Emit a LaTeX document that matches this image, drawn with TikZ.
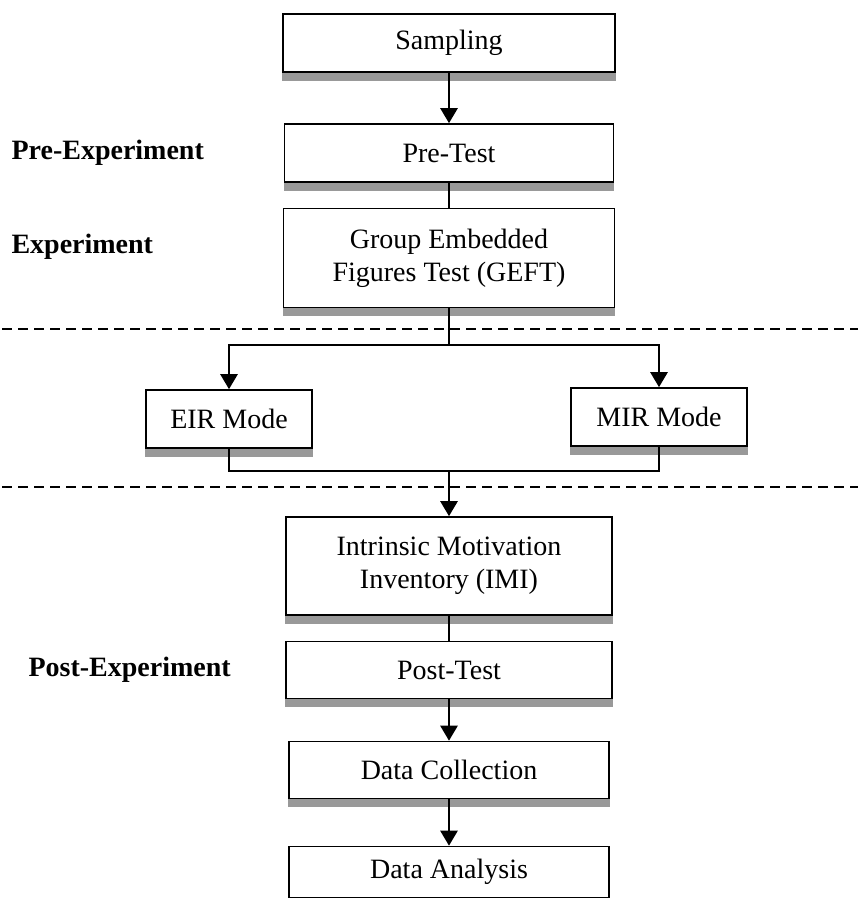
\documentclass[tikz,border=0pt]{standalone}
\usepackage{fontspec}
\setmainfont{Liberation Serif}
\usetikzlibrary{arrows.meta}

\tikzset{
  stage/.style={shape=rectangle,draw=black,line width=1.6pt,fill=white,
    inner sep=0pt,align=center,font=\fontsize{28}{33}\selectfont},
  phase/.style={anchor=west,font=\fontsize{28}{33}\selectfont\bfseries},
  flow/.style={line width=2.6pt,-{Triangle[width=17pt,length=15pt]}},
  link/.style={line width=2pt},
  sep/.style={line width=1.8pt,dash pattern=on 10pt off 6pt},
  shade/.style={fill=black!40}
}

\begin{document}
\begin{tikzpicture}[x=1pt,y=-1pt]
\useasboundingbox (0,0) rectangle (861,899);
% boxes of the procedure
\node[stage,minimum width=332pt,minimum height=58pt] (samp) at (449,43) {Sampling};
\node[stage,minimum width=329pt,minimum height=58pt] (pre) at (449,153) {Pre-Test};
\node[stage,minimum width=331pt,minimum height=99pt] (geft) at (449,258) {Group Embedded\\Figures Test (GEFT)};
\node[stage,minimum width=166pt,minimum height=58pt] (eir) at (229,419) {EIR Mode};
\node[stage,minimum width=176pt,minimum height=58pt] (mir) at (659,417) {MIR Mode};
\node[stage,minimum width=326pt,minimum height=98pt] (imi) at (449,566) {Intrinsic Motivation\\Inventory (IMI)};
\node[stage,minimum width=326pt,minimum height=57pt] (post) at (449,670) {Post-Test};
\node[stage,minimum width=320pt,minimum height=57pt] (coll) at (449,770) {Data Collection};
\node[stage,minimum width=320pt,minimum height=51pt] (anal) at (449,872) {Data Analysis};
% phase labels
\node[phase] (prelab) at (8,153) {Pre-Experiment};
\node[phase] (explab) at (8,247) {Experiment};
\node[phase] (postlab) at (25,670) {Post-Experiment};
% grey bars under the boxes
\foreach \n in {samp,pre,geft,eir,mir,imi,post,coll}
  \fill[shade] (\n.south west) rectangle ([yshift=-8pt]\n.south east);
% dashed separators
\coordinate (sepa) at (2,329);
\coordinate (sepb) at (858,329);
\coordinate (sepc) at (2,487);
\coordinate (sepd) at (858,487);
\draw[sep] (sepa) -- (sepb);
\draw[sep] (sepc) -- (sepd);
% connectors
\coordinate (split) at (449,345);
\coordinate (merge) at (449,471);
\draw[flow] (samp) -- (pre);
\draw[link] (pre) -- (geft);
\draw[link] (geft) -- (split);
\draw[flow] (split) -| (eir);
\draw[flow] (split) -| (mir);
\draw[link] (eir) |- (merge);
\draw[link] (mir) |- (merge);
\draw[flow] (merge) -- (imi);
\draw[link] (imi) -- (post);
\draw[flow] (post) -- (coll);
\draw[flow] (coll) -- (anal);
\end{tikzpicture}
\end{document}
